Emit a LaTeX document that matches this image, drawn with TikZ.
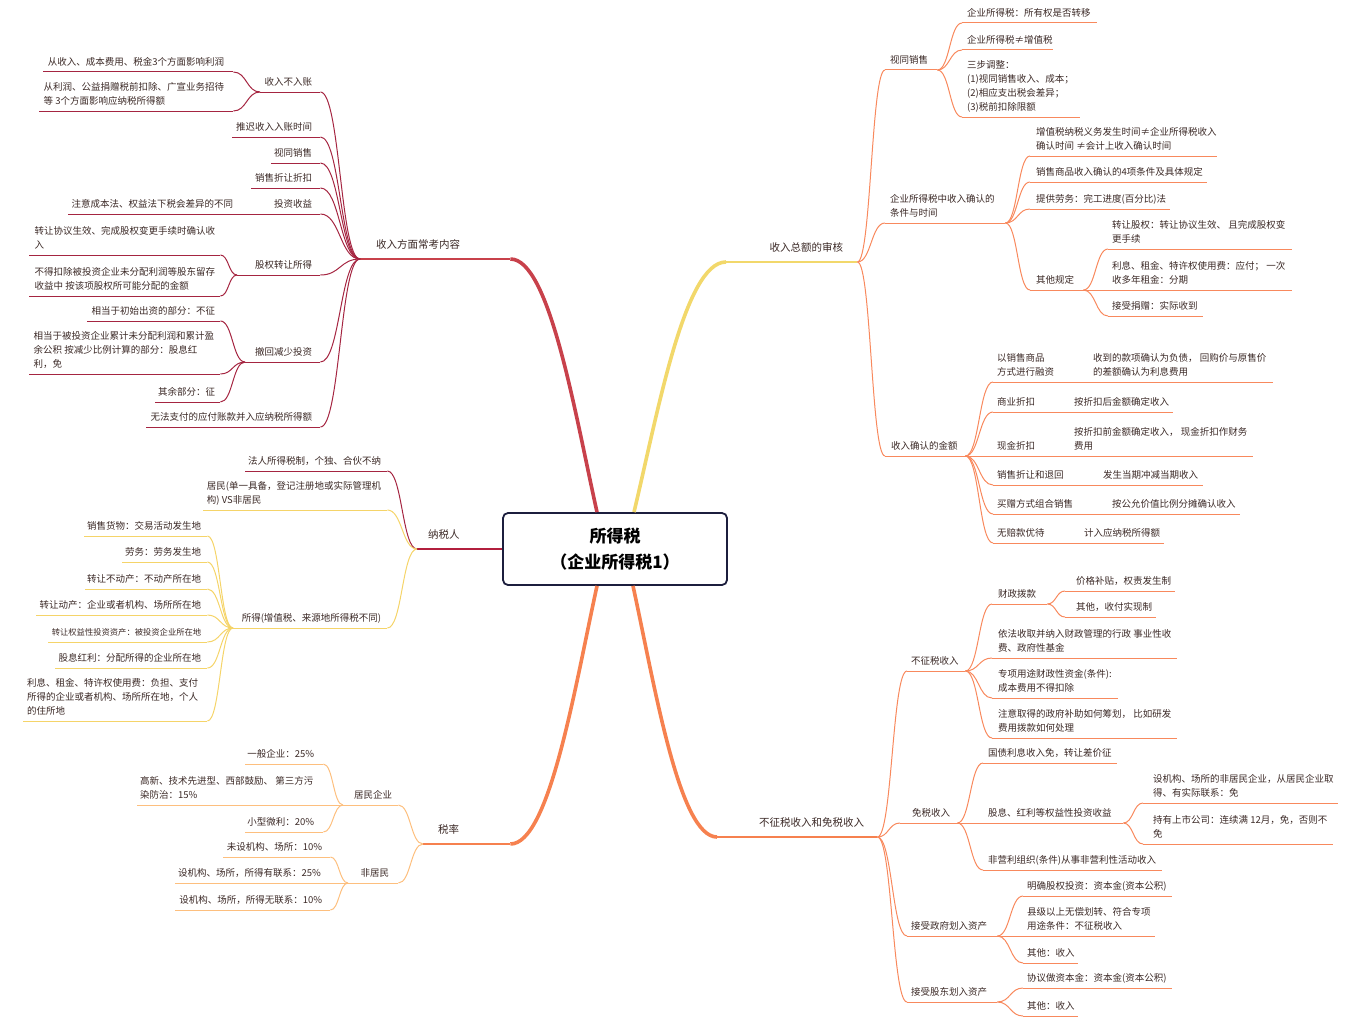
\documentclass[tikz,border=0pt]{standalone}
\usepackage{fontspec}
\setmainfont{Noto Sans CJK SC}
\usetikzlibrary{calc}
\definecolor{cTxt}{HTML}{3B2926}
\definecolor{cBox}{HTML}{1C1E3D}
\definecolor{cRed}{HTML}{C8414B}
\definecolor{cRed2}{HTML}{B21F3D}
\definecolor{cCrim}{HTML}{A52541}
\definecolor{cYel}{HTML}{F2D86B}
\definecolor{cGold}{HTML}{F5D469}
\definecolor{cOrg}{HTML}{F6814F}
\definecolor{cCoral}{HTML}{F8895D}
\definecolor{cPeach}{HTML}{FDBF7E}
\newcommand\rtopic[3][5]{\makebox[#2pt][l]{\hspace{#1pt}\begin{tabular}[b]{@{}l@{}}#3\end{tabular}}}
\newcommand\ltopic[3][7]{\makebox[#2pt][r]{\begin{tabular}[b]{@{}l@{}}#3\end{tabular}\hspace{#1pt}}}
\tikzset{
tp/.style={anchor=south west, inner xsep=0pt, inner ysep=2.3pt, text=cTxt, font=\fontsize{9.5}{13.8}\selectfont},
hd/.style={anchor=south west, inner xsep=0pt, inner ysep=5.8pt, text=cTxt, font=\fontsize{10.5}{14}\selectfont},
ul/.style={append after command={(\tikzlastnode.south west) edge[line width=1pt, #1] (\tikzlastnode.south east)}},
sc/.style={to path={let \p1=(\tikztostart), \p2=(\tikztotarget) in .. controls ({0.5*\x1+0.5*\x2},\y1) and ({0.5*\x1+0.5*\x2},\y2) .. (\tikztotarget)}},
mc/.style={to path={let \p1=(\tikztostart), \p2=(\tikztotarget) in .. controls ({\x1+0.26*(\x2-\x1)},{\y1+0.4*(\y2-\y1)}) and ({\x2-0.45*(\x2-\x1)},\y2) .. (\tikztotarget)}},
redlink/.style={sc, cCrim, line width=1pt},
goldlink/.style={sc, cGold, line width=1pt},
peachlink/.style={sc, cPeach, line width=1pt},
corallink/.style={sc, cCoral, line width=1pt},
mainlink/.style={mc, line width=3.6pt, #1},
}

\begin{document}
\begin{tikzpicture}[x=1pt, y=-1pt]
		\useasboundingbox (0,0) rectangle (1355,1025);
		% left: red branch
		\node [hd, ul={cRed, line width=1.6pt}] (1) at (360, 259) {\rtopic[16]{150}{收入方面常考内容}};
		\node [tp, ul=cCrim] (2) at (260, 92) {\ltopic[8]{60}{收入不入账}};
		\node [tp, ul=cCrim] (3) at (232, 137) {\ltopic[8]{88}{推迟收入入账时间}};
		\node [tp, ul=cCrim] (4) at (271, 163) {\ltopic[8]{49}{视同销售}};
		\node [tp, ul=cCrim] (5) at (251, 188) {\ltopic[8]{69}{销售折让折扣}};
		\node [tp, ul=cCrim] (6) at (245, 214) {\ltopic[8]{75}{投资收益}};
		\node [tp, ul=cCrim] (7) at (68, 214) {\ltopic[12]{177}{注意成本法、权益法下税会差异的不同}};
		\node [tp, ul=cCrim] (8) at (237, 275) {\ltopic[8]{83}{股权转让所得}};
		\node [tp, ul=cCrim] (9) at (29, 255) {\ltopic[5]{191}{转让协议生效、完成股权变更手续时确认收\\入}};
		\node [tp, ul=cCrim] (10) at (29, 296) {\ltopic[5]{191}{不得扣除被投资企业未分配利润等股东留存\\收益中 按该项股权所可能分配的金额}};
		\node [tp, ul=cCrim] (11) at (245, 362) {\ltopic[8]{75}{撤回减少投资}};
		\node [tp, ul=cCrim] (12) at (87, 321) {\ltopic[5]{133}{相当于初始出资的部分：不征}};
		\node [tp, ul=cCrim] (13) at (29, 374) {\ltopic[6]{191}{相当于被投资企业累计未分配利润和累计盈\\余公积 按减少比例计算的部分：股息红\\利，免}};
		\node [tp, ul=cCrim] (14) at (155, 402) {\ltopic[5]{65}{其余部分：征}};
		\node [tp, ul=cCrim] (15) at (146, 427) {\ltopic[8]{174}{无法支付的应付账款并入应纳税所得额}};
		\node [tp, ul=cCrim] (16) at (43, 72) {\ltopic[9]{190}{从收入、成本费用、税金3个方面影响利润}};
		\node [tp, ul=cCrim] (17) at (39, 111) {\ltopic[9]{194}{从利润、公益捐赠税前扣除、广宣业务招待\\等 3个方面影响应纳税所得额}};
		% left: taxpayer
		\node [hd, ul={cRed2, line width=2.5pt}] (18) at (417, 549) {\rtopic[11]{86}{纳税人}};
		\node [tp, ul=cCrim] (19) at (245, 471) {\ltopic[6]{142}{法人所得税制，个独、合伙不纳}};
		\node [tp, ul=cGold] (20) at (203, 510) {\ltopic[6]{184}{居民(单一具备，登记注册地或实际管理机\\构) VS非居民}};
		\node [tp, ul=cGold] (21) at (233, 628) {\ltopic[6]{154}{所得(增值税、来源地所得税不同)}};
		\node [tp, ul=cGold] (22) at (84, 536) {\ltopic[6]{123}{销售货物：交易活动发生地}};
		\node [tp, ul=cGold] (23) at (122, 562) {\ltopic[6]{85}{劳务：劳务发生地}};
		\node [tp, ul=cGold] (24) at (85, 589) {\ltopic[6]{122}{转让不动产：不动产所在地}};
		\node [tp, ul=cGold] (25) at (36, 615) {\ltopic[6]{171}{转让动产：企业或者机构、场所所在地}};
		\node [tp, ul=cGold, font=\fontsize{8.3}{13.8}\selectfont] (26) at (48, 642) {\ltopic[6]{159}{转让权益性投资资产：被投资企业所在地}};
		\node [tp, ul=cGold] (27) at (55, 668) {\ltopic[6]{152}{股息红利：分配所得的企业所在地}};
		\node [tp, ul=cGold] (28) at (23, 721) {\ltopic[9]{184}{利息、租金、特许权使用费：负担、支付\\所得的企业或者机构、场所所在地，个人\\的住所地}};
		% left: tax rate
		\node [hd, ul={cOrg, line width=1.6pt}] (29) at (423, 844) {\rtopic[15]{87}{税率}};
		\node [tp, ul=cPeach] (30) at (343, 805) {\ltopic[6]{55}{居民企业}};
		\node [tp, ul=cPeach] (31) at (137, 805) {\rtopic[3]{206}{高新、技术先进型、西部鼓励、 第三方污\\染防治：15\%}};
		\node [tp, ul=cPeach] (32) at (245, 764) {\ltopic[9]{78}{一般企业：25\%}};
		\node [tp, ul=cPeach] (33) at (245, 832) {\ltopic[9]{78}{小型微利：20\%}};
		\node [tp, ul=cPeach] (34) at (348, 883) {\ltopic[9]{50}{非居民}};
		\node [tp, ul=cPeach] (35) at (175, 883) {\rtopic[3]{173}{设机构、场所，所得有联系：25\%}};
		\node [tp, ul=cPeach] (36) at (223, 857) {\ltopic[8]{107}{未设机构、场所：10\%}};
		\node [tp, ul=cPeach] (37) at (175, 910) {\ltopic[8]{155}{设机构、场所，所得无联系：10\%}};
		% right: total income
		\node [hd, ul={cYel, line width=1.6pt}] (38) at (726, 262) {\ltopic[14]{131}{收入总额的审核}};
		\node [tp, ul=cCoral] (39) at (885, 70) {\rtopic{52}{视同销售}};
		\node [tp, ul=cCoral] (40) at (962, 23) {\rtopic{135}{企业所得税：所有权是否转移}};
		\node [tp, ul=cCoral] (41) at (962, 50) {\rtopic{91}{企业所得税≠增值税}};
		\node [tp, ul=cCoral] (42) at (962, 117) {\rtopic{118}{三步调整：\\(1)视同销售收入、成本；\\(2)相应支出税会差异；\\(3)税前扣除限额}};
		\node [tp, ul=cCoral] (43) at (885, 223) {\rtopic{120}{企业所得税中收入确认的\\条件与时间}};
		\node [tp, ul=cCoral] (44) at (1030, 156) {\rtopic[6]{187}{增值税纳税义务发生时间≠企业所得税收入\\确认时间 ≠会计上收入确认时间}};
		\node [tp, ul=cCoral] (45) at (1030, 182) {\rtopic[6]{177}{销售商品收入确认的4项条件及具体规定}};
		\node [tp, ul=cCoral] (46) at (1030, 209) {\rtopic[6]{140}{提供劳务：完工进度(百分比)法}};
		\node [tp, ul=cCoral] (47) at (1030, 290) {\rtopic[6]{53}{其他规定}};
		\node [tp, ul=cCoral] (48) at (1108, 249) {\rtopic[4]{184}{转让股权：转让协议生效、 且完成股权变\\更手续}};
		\node [tp, ul=cCoral] (49) at (1108, 290) {\rtopic[4]{184}{利息、租金、特许权使用费：应付； 一次\\收多年租金：分期}};
		\node [tp, ul=cCoral] (50) at (1108, 316) {\rtopic[4]{95}{接受捐赠：实际收到}};
		\node [tp, ul=cCoral] (51) at (885, 456) {\rtopic[6]{80}{收入确认的金额}};
		\node [tp, ul=cCoral] (52) at (993, 382) {\rtopic[4]{95}{以销售商品\\方式进行融资}};
		\node [tp, ul=cCoral] (53) at (1088, 382) {\rtopic{185}{收到的款项确认为负债， 回购价与原售价\\的差额确认为利息费用}};
		\node [tp, ul=cCoral] (54) at (993, 412) {\rtopic[4]{76}{商业折扣}};
		\node [tp, ul=cCoral] (55) at (1069, 412) {\rtopic{104}{按折扣后金额确定收入}};
		\node [tp, ul=cCoral] (56) at (993, 456) {\rtopic[4]{76}{现金折扣}};
		\node [tp, ul=cCoral] (57) at (1069, 456) {\rtopic{184}{按折扣前金额确定收入， 现金折扣作财务\\费用}};
		\node [tp, ul=cCoral] (58) at (993, 485) {\rtopic[4]{105}{销售折让和退回}};
		\node [tp, ul=cCoral] (59) at (1098, 485) {\rtopic{105}{发生当期冲减当期收入}};
		\node [tp, ul=cCoral] (60) at (993, 514) {\rtopic[4]{114}{买赠方式组合销售}};
		\node [tp, ul=cCoral] (61) at (1107, 514) {\rtopic{133}{按公允价值比例分摊确认收入}};
		\node [tp, ul=cCoral] (62) at (993, 543) {\rtopic[4]{86}{无赔款优待}};
		\node [tp, ul=cCoral] (63) at (1079, 543) {\rtopic{85}{计入应纳税所得额}};
		% right: non-taxable and exempt income
		\node [hd, ul={cOrg, line width=1.6pt}] (64) at (717, 837) {\ltopic[13]{160}{不征税收入和免税收入}};
		\node [tp, ul=cCoral] (65) at (907, 671) {\rtopic[4]{58}{不征税收入}};
		\node [tp, ul=cCoral] (66) at (992, 604) {\rtopic[6]{55}{财政拨款}};
		\node [tp, ul=cCoral] (67) at (1065, 591) {\rtopic[11]{110}{价格补贴，权责发生制}};
		\node [tp, ul=cCoral] (68) at (1065, 617) {\rtopic[11]{91}{其他，收付实现制}};
		\node [tp, ul=cCoral] (69) at (992, 658) {\rtopic[6]{185}{依法收取并纳入财政管理的行政 事业性收\\费、政府性基金}};
		\node [tp, ul=cCoral] (70) at (992, 698) {\rtopic[6]{126}{专项用途财政性资金(条件):\\成本费用不得扣除}};
		\node [tp, ul=cCoral] (71) at (992, 738) {\rtopic[6]{185}{注意取得的政府补助如何筹划， 比如研发\\费用拨款如何处理}};
		\node [tp, ul=cCoral] (72) at (900, 823) {\rtopic[12]{57}{免税收入}};
		\node [tp, ul=cCoral] (73) at (983, 763) {\rtopic{134}{国债利息收入免，转让差价征}};
		\node [tp, ul=cCoral] (74) at (983, 823) {\rtopic{140}{股息、红利等权益性投资收益}};
		\node [tp, ul=cCoral] (75) at (1143, 803) {\rtopic[10]{195}{设机构、场所的非居民企业，从居民企业取\\得、有实际联系：免}};
		\node [tp, ul=cCoral] (76) at (1143, 844) {\rtopic[10]{190}{持有上市公司：连续满 12月，免，否则不\\免}};
		\node [tp, ul=cCoral] (77) at (983, 870) {\rtopic{179}{非营利组织(条件)从事非营利性活动收入}};
		\node [tp, ul=cCoral] (78) at (907, 936) {\rtopic[4]{90}{接受政府划入资产}};
		\node [tp, ul=cCoral] (79) at (1023, 896) {\rtopic[4]{149}{明确股权投资：资本金(资本公积)}};
		\node [tp, ul=cCoral] (80) at (1023, 936) {\rtopic[4]{132}{县级以上无偿划转、符合专项\\用途条件：不征税收入}};
		\node [tp, ul=cCoral] (81) at (1023, 963) {\rtopic[4]{55}{其他：收入}};
		\node [tp, ul=cCoral] (82) at (907, 1002) {\rtopic[4]{90}{接受股东划入资产}};
		\node [tp, ul=cCoral] (83) at (1023, 988) {\rtopic[4]{149}{协议做资本金：资本金(资本公积)}};
		\node [tp, ul=cCoral] (84) at (1023, 1016) {\rtopic[4]{55}{其他：收入}};
		% connectors
		\draw [style=redlink] (1.south west) to (2.south east);
		\draw [style=redlink] (1.south west) to (3.south east);
		\draw [style=redlink] (1.south west) to (4.south east);
		\draw [style=redlink] (1.south west) to (5.south east);
		\draw [style=redlink] (1.south west) to (6.south east);
		\draw [style=redlink] (1.south west) to (8.south east);
		\draw [style=redlink] (1.south west) to (11.south east);
		\draw [style=redlink] (1.south west) to (15.south east);
		\draw [style=redlink] (2.south west) to (16.south east);
		\draw [style=redlink] (2.south west) to (17.south east);
		\draw [style=redlink] (8.south west) to (9.south east);
		\draw [style=redlink] (8.south west) to (10.south east);
		\draw [style=redlink] (11.south west) to (12.south east);
		\draw [style=redlink] (11.south west) to (13.south east);
		\draw [style=redlink] (11.south west) to (14.south east);
		\draw [style=redlink] (18.south west) to (19.south east);
		\draw [style=goldlink] (18.south west) to (20.south east);
		\draw [style=goldlink] (18.south west) to (21.south east);
		\draw [style=goldlink] (21.south west) to (22.south east);
		\draw [style=goldlink] (21.south west) to (23.south east);
		\draw [style=goldlink] (21.south west) to (24.south east);
		\draw [style=goldlink] (21.south west) to (25.south east);
		\draw [style=goldlink] (21.south west) to (26.south east);
		\draw [style=goldlink] (21.south west) to (27.south east);
		\draw [style=goldlink] (21.south west) to (28.south east);
		\draw [style=peachlink] (29.south west) to (30.south east);
		\draw [style=peachlink] (29.south west) to (34.south east);
		\draw [style=peachlink] (30.south west) to (32.south east);
		\draw [style=peachlink] (30.south west) to (33.south east);
		\draw [style=peachlink] (34.south west) to (36.south east);
		\draw [style=peachlink] (34.south west) to (37.south east);
		\draw [style=corallink] (38.south east) to (39.south west);
		\draw [style=corallink] (38.south east) to (43.south west);
		\draw [style=corallink] (38.south east) to (51.south west);
		\draw [style=corallink] (39.south east) to (40.south west);
		\draw [style=corallink] (39.south east) to (41.south west);
		\draw [style=corallink] (39.south east) to (42.south west);
		\draw [style=corallink] (43.south east) to (44.south west);
		\draw [style=corallink] (43.south east) to (45.south west);
		\draw [style=corallink] (43.south east) to (46.south west);
		\draw [style=corallink] (43.south east) to (47.south west);
		\draw [style=corallink] (47.south east) to (48.south west);
		\draw [style=corallink] (47.south east) to (49.south west);
		\draw [style=corallink] (47.south east) to (50.south west);
		\draw [style=corallink] (51.south east) to (52.south west);
		\draw [style=corallink] (51.south east) to (54.south west);
		\draw [style=corallink] (51.south east) to (56.south west);
		\draw [style=corallink] (51.south east) to (58.south west);
		\draw [style=corallink] (51.south east) to (60.south west);
		\draw [style=corallink] (51.south east) to (62.south west);
		\draw [style=corallink] (64.south east) to (65.south west);
		\draw [style=corallink] (64.south east) to (72.south west);
		\draw [style=corallink] (64.south east) to (78.south west);
		\draw [style=corallink] (64.south east) to (82.south west);
		\draw [style=corallink] (65.south east) to (66.south west);
		\draw [style=corallink] (65.south east) to (69.south west);
		\draw [style=corallink] (65.south east) to (70.south west);
		\draw [style=corallink] (65.south east) to (71.south west);
		\draw [style=corallink] (66.south east) to (67.south west);
		\draw [style=corallink] (66.south east) to (68.south west);
		\draw [style=corallink] (72.south east) to (73.south west);
		\draw [style=corallink] (72.south east) to (74.south west);
		\draw [style=corallink] (72.south east) to (77.south west);
		\draw [style=corallink] (74.south east) to (75.south west);
		\draw [style=corallink] (74.south east) to (76.south west);
		\draw [style=corallink] (78.south east) to (79.south west);
		\draw [style=corallink] (78.south east) to (80.south west);
		\draw [style=corallink] (78.south east) to (81.south west);
		\draw [style=corallink] (82.south east) to (83.south west);
		\draw [style=corallink] (82.south east) to (84.south west);
		% main branches and centre
		\node [draw=cBox, line width=1.8pt, rounded corners=5pt, fill=white, minimum width=224pt, minimum height=72pt, align=center, text=black, font=\bfseries\fontsize{17}{26}\selectfont] (0) at (615, 549) {所得税\\（企业所得税1）};
		\draw [mainlink=cRed] ([xshift=-18pt]0.north) to (1.south east);
		\draw [mainlink=cYel] ([xshift=19pt]0.north) to (38.south west);
		\draw [mainlink=cOrg] ([xshift=-18pt]0.south) to (29.south east);
		\draw [mainlink=cOrg] ([xshift=18pt]0.south) to (64.south west);
	\end{tikzpicture}
\end{document}
